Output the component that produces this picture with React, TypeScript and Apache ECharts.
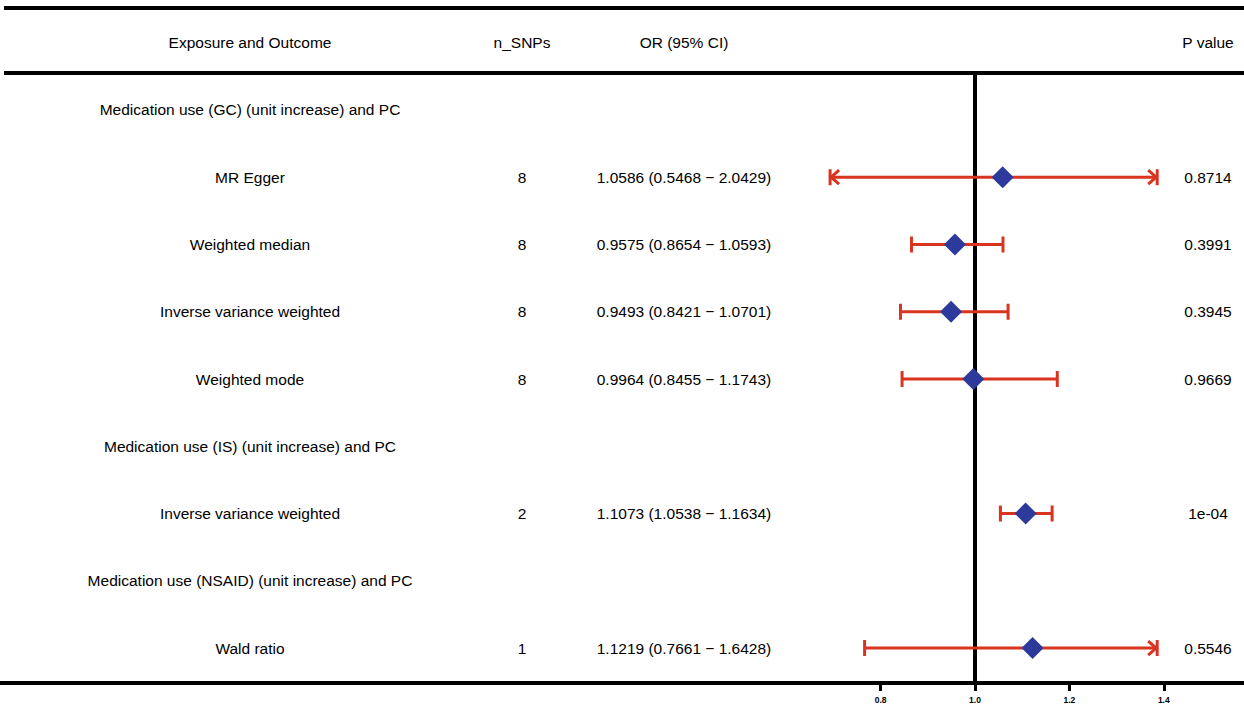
import React, { useEffect, useRef } from "react";
import * as echarts from "echarts";

// ---- data ----
const headers = ["Exposure and Outcome", "n_SNPs", "OR (95% CI)", "P value"];
const rowLabels = [
  "Medication use (GC) (unit increase) and PC",
  "MR Egger",
  "Weighted median",
  "Inverse variance weighted",
  "Weighted mode",
  "Medication use (IS) (unit increase) and PC",
  "Inverse variance weighted",
  "Medication use (NSAID) (unit increase) and PC",
  "Wald ratio",
];
const nSnps = ["", "8", "8", "8", "8", "", "2", "", "1"];
const orValues: (number | null)[] = [null, 1.0586, 0.9575, 0.9493, 0.9964, null, 1.1073, null, 1.1219];
const ciLower: (number | null)[] = [null, 0.5468, 0.8654, 0.8421, 0.8455, null, 1.0538, null, 0.7661];
const ciUpper: (number | null)[] = [null, 2.0429, 1.0593, 1.0701, 1.1743, null, 1.1634, null, 1.6428];
const orText = [
  "",
  "1.0586 (0.5468 \u2212 2.0429)",
  "0.9575 (0.8654 \u2212 1.0593)",
  "0.9493 (0.8421 \u2212 1.0701)",
  "0.9964 (0.8455 \u2212 1.1743)",
  "",
  "1.1073 (1.0538 \u2212 1.1634)",
  "",
  "1.1219 (0.7661 \u2212 1.6428)",
];
const pValues = ["", "0.8714", "0.3991", "0.3945", "0.9669", "", "1e-04", "", "0.5546"];
const xTicks = [0.8, 1.0, 1.2, 1.4];
const clipLow = 0.693;
const clipHigh = 1.386;
const refValue = 1;

// ---- layout ----
const W = 1244;
const H = 705;
const FONT = "'Liberation Sans', Arial, Helvetica, sans-serif";
const FS = 15.5;
const refPx = 975;
const pxPerUnit = 472;
const xMin = refValue - refPx / pxPerUnit;
const xMax = refValue + (W - refPx) / pxPerUnit;
const colX = [250, 522, 684, 1208];
const RED = "#d9341f";
const BLUE = "#2d3a9c";

export default function App() {
  const ref = useRef<HTMLDivElement>(null);
  useEffect(() => {
    const chart = echarts.init(ref.current!, null, { renderer: "svg", width: W, height: H });

    const ciData = orValues
      .map((v, i) => (v == null ? null : [v, i + 1, ciLower[i], ciUpper[i]]))
      .filter((d) => d != null);
    const textData = rowLabels.map((_, i) => [refValue, i + 1, i]);

    chart.setOption({
      animation: false,
      grid: { left: 0, right: 0, top: 73, bottom: H - 683, containLabel: false },
      xAxis: {
        type: "value",
        min: xMin,
        max: xMax,
        splitLine: { show: false },
        axisLine: { show: true, onZero: false, lineStyle: { color: "#000", width: 4 } },
        axisTick: {
          show: true,
          customValues: xTicks,
          length: 8,
          lineStyle: { color: "#000", width: 3 },
        },
        axisLabel: {
          show: true,
          customValues: xTicks,
          formatter: (v: number) => v.toFixed(1),
          fontSize: 8.5,
          fontWeight: "bold",
          color: "#000",
          fontFamily: FONT,
          margin: 12,
        },
      },
      yAxis: {
        type: "value",
        inverse: true,
        min: 0.45,
        max: 9.52,
        show: false,
      },
      graphic: [
        { type: "line", shape: { x1: 4, y1: 8, x2: W, y2: 8 }, style: { stroke: "#000", lineWidth: 4 } },
        { type: "line", shape: { x1: 4, y1: 73, x2: W, y2: 73 }, style: { stroke: "#000", lineWidth: 4 } },
        ...headers.map((h, i) => ({
          type: "text",
          x: colX[i],
          y: 42,
          style: {
            text: h,
            fill: "#000",
            font: `${FS}px ${FONT}`,
            textAlign: "center",
            textVerticalAlign: "middle",
          },
        })),
      ],
      series: [
        {
          type: "custom",
          name: "text",
          data: textData,
          clip: false,
          renderItem: (params: any, api: any) => {
            const i = api.value(2);
            const y = api.coord([refValue, api.value(1)])[1];
            const cells = [rowLabels[i], nSnps[i], orText[i], pValues[i]];
            return {
              type: "group",
              children: cells
                .map((t, c) => ({
                  type: "text",
                  x: colX[c],
                  y,
                  style: {
                    text: t,
                    fill: "#000",
                    font: `${FS}px ${FONT}`,
                    textAlign: "center",
                    textVerticalAlign: "middle",
                  },
                }))
                .filter((e) => e.style.text !== ""),
            };
          },
        },
        {
          type: "custom",
          name: "ci",
          data: ciData,
          encode: { x: [0, 2, 3], y: 1 },
          clip: false,
          renderItem: (params: any, api: any) => {
            const est = api.value(0);
            const row = api.value(1);
            const lo = api.value(2);
            const hi = api.value(3);
            const loC = Math.max(lo, clipLow);
            const hiC = Math.min(hi, clipHigh);
            const [xe, y] = api.coord([est, row]);
            const xl = api.coord([loC, row])[0];
            const xh = api.coord([hiC, row])[0];
            const ls = { stroke: RED, lineWidth: 3 };
            const cap = 8;
            const children: any[] = [
              { type: "line", shape: { x1: xl, y1: y, x2: xh, y2: y }, style: ls },
              { type: "line", shape: { x1: xl, y1: y - cap, x2: xl, y2: y + cap }, style: ls },
              { type: "line", shape: { x1: xh, y1: y - cap, x2: xh, y2: y + cap }, style: ls },
            ];
            if (lo < clipLow) {
              children.push({
                type: "polyline",
                shape: { points: [[xl + 9, y - 7], [xl + 1, y], [xl + 9, y + 7]] },
                style: { stroke: RED, lineWidth: 3, fill: "none" },
              });
            }
            if (hi > clipHigh) {
              children.push({
                type: "polyline",
                shape: { points: [[xh - 9, y - 7], [xh - 1, y], [xh - 9, y + 7]] },
                style: { stroke: RED, lineWidth: 3, fill: "none" },
              });
            }
            const d = 11;
            children.push({
              type: "polygon",
              shape: { points: [[xe, y - d], [xe + d, y], [xe, y + d], [xe - d, y]] },
              style: { fill: BLUE, stroke: "none" },
              z2: 10,
            });
            return { type: "group", children };
          },
          markLine: {
            silent: true,
            symbol: "none",
            label: { show: false },
            lineStyle: { color: "#000", width: 4, type: "solid" },
            data: [{ xAxis: refValue }],
            z: 1,
          },
        },
      ],
    });
    return () => chart.dispose();
  }, []);
  return (
    <div
      ref={ref}
      style={{ position: "absolute", left: 0, top: 0, width: W, height: H, background: "#fff" }}
    />
  );
}
